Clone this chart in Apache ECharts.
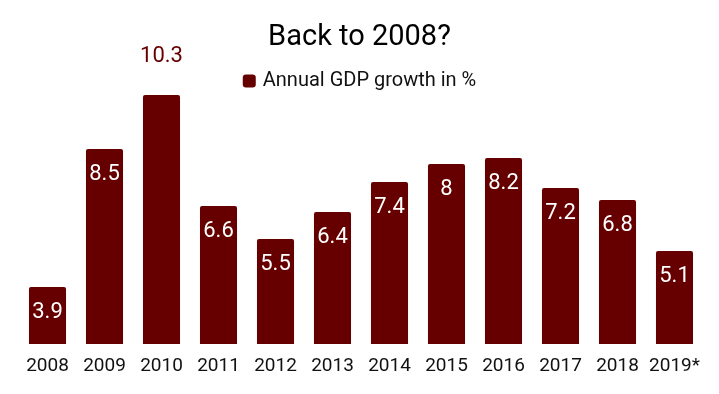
<!DOCTYPE html>
<html>
<head>
<meta charset="utf-8">
<script src="https://cdn.jsdelivr.net/npm/echarts@6/dist/echarts.min.js"></script>
<style>
html,body{margin:0;padding:0;background:#fff;}
#chart{width:719px;height:394px;}
</style>
</head>
<body>
<div id="chart"></div>
<script>
const years = ['2008','2009','2010','2011','2012','2013','2014','2015','2016','2017','2018','2019*'];
const growth = [3.9, 8.5, 10.3, 6.6, 5.5, 6.4, 7.4, 8, 8.2, 7.2, 6.8, 5.1];
const seriesName = 'Annual GDP growth in %';
const titleText = 'Back to 2008?';

const barColor = '#660000';
const outsideIndex = growth.indexOf(Math.max(...growth));

const chart = echarts.init(document.getElementById('chart'));
chart.setOption({
  backgroundColor: '#fff',
  animation: false,
  textStyle: { fontFamily: 'Roboto' },
  title: {
    text: titleText,
    left: 'center',
    top: 18,
    textStyle: { fontFamily: 'Roboto', fontSize: 29, fontWeight: 'normal', color: '#000' }
  },
  legend: {
    top: 66,
    left: 'center',
    itemWidth: 13,
    itemHeight: 13,
    icon: 'roundRect',
    textStyle: { fontFamily: 'Roboto', fontSize: 20, color: '#111', padding: [0, 0, 0, 2] },
    data: [seriesName]
  },
  grid: { left: 19, right: 16, top: 44, bottom: 50, containLabel: false },
  xAxis: {
    type: 'category',
    data: years,
    axisLine: { show: false },
    axisTick: { show: false },
    axisLabel: { interval: 0, fontFamily: 'Roboto', fontSize: 19, color: '#111', margin: 13 }
  },
  yAxis: {
    type: 'value',
    min: 2,
    max: 12,
    show: false,
    splitLine: { show: false }
  },
  series: [{
    name: seriesName,
    type: 'bar',
    barWidth: '65%',
    itemStyle: { color: barColor, borderRadius: [2, 2, 0, 0] },
    label: {
      show: true,
      position: 'insideTop',
      distance: 14,
      color: '#fff',
      fontFamily: 'Roboto',
      fontSize: 22
    },
    data: growth.map((v, i) => i === outsideIndex ? {
      value: v,
      label: { position: 'top', distance: 28, color: barColor }
    } : v)
  }]
});
</script>
</body>
</html>
